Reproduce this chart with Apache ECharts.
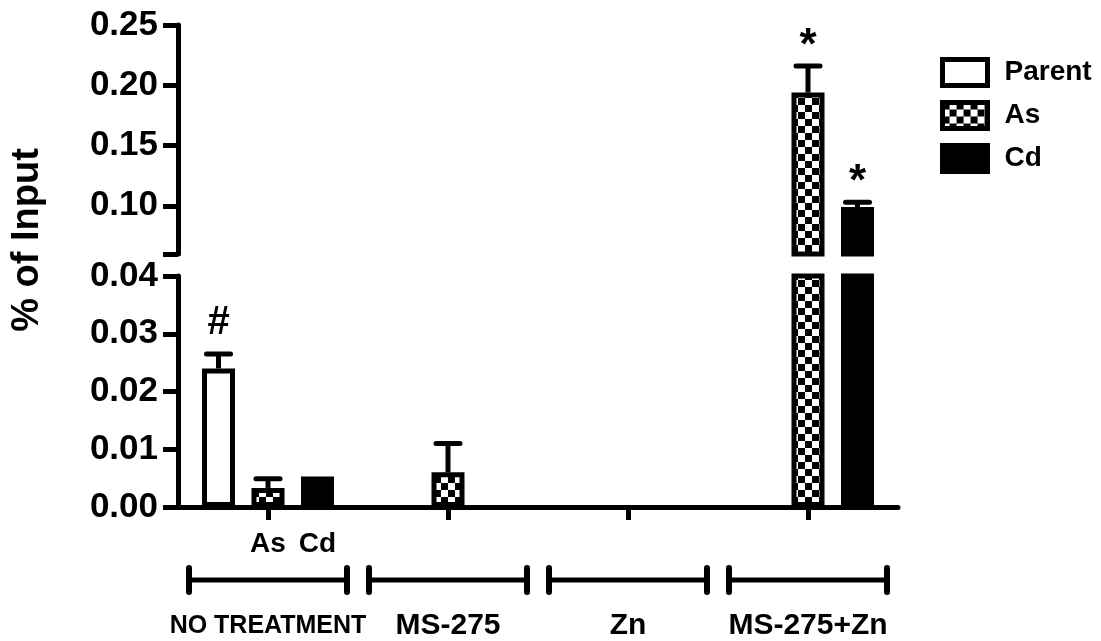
<!DOCTYPE html>
<html><head><meta charset="utf-8">
<script src="https://cdn.jsdelivr.net/npm/echarts@6/dist/echarts.min.js"></script>
<style>html,body{margin:0;padding:0;background:#fff}#c{width:1101px;height:641px}</style>
</head><body><div id="c"></div>
<script>
// ---------------- data ----------------
const categories = ['NO TREATMENT', 'MS-275', 'Zn', 'MS-275+Zn'];
const seriesNames = ['Parent', 'As', 'Cd'];
const parentValues = [0.024, null, null, null];
const asValues = [0.0033, 0.006, null, 0.194];
const cdValues = [0.0053, null, null, 0.099];
const parentErrTop = [0.0265, null, null, null];
const asErrTop = [0.0049, 0.011, null, 0.216];
const cdErrTop = [null, null, null, 0.103];
const parentMarks = ['#', '', '', ''];
const asMarks = ['', '', '', '*'];
const cdMarks = ['', '', '', '*'];
const lowerTicks = [0, 0.01, 0.02, 0.03, 0.04];
const upperTicks = [0.10, 0.15, 0.20, 0.25];
const lowerRange = [0, 0.04];
const upperRange = [0.06, 0.25];
const subLabelCategory = 'NO TREATMENT';
const yAxisTitle = '% of Input';

// ---------------- styles ----------------
const FONT = '"Liberation Sans", Arial, Helvetica, sans-serif';
const NARROW = '"Liberation Sans Narrow", "Arial Narrow", "Liberation Sans", Arial, sans-serif';
const BAR_W = 33, BAR_GAP = 0.5, STEP = BAR_W * (1 + BAR_GAP);

function makeChecker() {
  const c = document.createElement('canvas');
  c.width = 14; c.height = 14;
  const g = c.getContext('2d');
  g.fillStyle = '#fff'; g.fillRect(0, 0, 14, 14);
  g.fillStyle = '#000'; g.fillRect(0, 0, 7, 7); g.fillRect(7, 7, 7, 7);
  return c;
}
const checker = { image: makeChecker(), repeat: 'repeat' };
const barStyles = [
  { color: '#fff', borderColor: '#000', borderWidth: 5 },
  { color: checker, borderColor: '#000', borderWidth: 5 },
  { color: '#000', borderColor: '#000', borderWidth: 5 }
];
const groups = [
  { values: parentValues, err: parentErrTop, marks: parentMarks },
  { values: asValues, err: asErrTop, marks: asMarks },
  { values: cdValues, err: cdErrTop, marks: cdMarks }
];
const markOffset = { '#': 8, '*': -5 };
const markSize = { '#': 40, '*': 44 };

function errorSeries(gi, filterFn) {
  const items = [];
  groups.forEach((g, k) => g.values.forEach((v, i) => {
    if (v == null) return;
    const e = g.err[i] == null ? v : g.err[i];
    if (!filterFn(v, e)) return;
    items.push({ i, v, e, k, m: g.marks[i] });
  }));
  return {
    type: 'custom', xAxisIndex: gi, yAxisIndex: gi, z: 5, silent: true, clip: false,
    data: items.map(d => [d.i, d.e]),
    renderItem(params, api) {
      const d = items[params.dataIndex];
      const x = api.coord([d.i, 0])[0] + (d.k - 1) * STEP;
      const yv = api.coord([d.i, d.v])[1];
      const ye = api.coord([d.i, d.e])[1];
      const ch = [];
      if (d.e !== d.v) {
        ch.push({ type: 'line', shape: { x1: x, y1: yv, x2: x, y2: ye }, style: { stroke: '#000', lineWidth: 5 } });
        ch.push({ type: 'line', shape: { x1: x - 12, y1: ye, x2: x + 12, y2: ye }, style: { stroke: '#000', lineWidth: 5, lineCap: 'round' } });
      }
      if (d.m) {
        ch.push({ type: 'text', x: x, y: ye - 2.5 - markOffset[d.m],
          style: { text: d.m, fontSize: markSize[d.m], fontWeight: 'bold', fontFamily: FONT, fill: '#000', align: 'center', verticalAlign: 'bottom' } });
      }
      return { type: 'group', children: ch };
    }
  };
}

const lowerBars = seriesNames.map((name, k) => ({
  type: 'bar', name, xAxisIndex: 0, yAxisIndex: 0, barWidth: BAR_W, barGap: (BAR_GAP * 100) + '%',
  itemStyle: barStyles[k],
  label: { show: false, position: 'bottom', distance: 23, formatter: '{a}', fontSize: 28, fontWeight: 'bold', color: '#000', fontFamily: FONT },
  data: groups[k].values.map((v, i) => ({
    value: v == null ? '-' : v,
    label: { show: k > 0 && categories[i] === subLabelCategory }
  }))
}));
const upperBars = seriesNames.map((name, k) => ({
  type: 'bar', name, xAxisIndex: 1, yAxisIndex: 1, barWidth: BAR_W, barGap: (BAR_GAP * 100) + '%',
  itemStyle: barStyles[k],
  data: groups[k].values.map(v => (v != null && v > upperRange[0]) ? v : '-')
}));

const bracketSeries = {
  type: 'custom', xAxisIndex: 0, yAxisIndex: 0, silent: true, clip: false,
  data: categories.map((c, i) => [i, 0]),
  renderItem(params, api) {
    const p = api.coord([api.value(0), 0]);
    const cx = p[0], y = p[1] + 73, hw = 79;
    const st = { stroke: '#000', lineWidth: 5 };
    const cap = { stroke: '#000', lineWidth: 6, lineCap: 'round' };
    return { type: 'group', children: [
      { type: 'line', shape: { x1: cx - hw, y1: y, x2: cx + hw, y2: y }, style: st },
      { type: 'line', shape: { x1: cx - hw, y1: y - 12, x2: cx - hw, y2: y + 12 }, style: cap },
      { type: 'line', shape: { x1: cx + hw, y1: y - 12, x2: cx + hw, y2: y + 12 }, style: cap }
    ] };
  }
};

const axisLineStyle = { color: '#000', width: 5 };
const yLabel = { margin: 20, fontSize: 35, fontWeight: 'bold', color: '#000', fontFamily: FONT, formatter: v => Number(v).toFixed(2) };

const option = {
  animation: false,
  backgroundColor: '#fff',
  grid: [
    { left: 178, right: 203, top: 276, bottom: 131 },
    { left: 178, right: 203, top: 25, bottom: 387 }
  ],
  xAxis: [
    { type: 'category', gridIndex: 0, data: categories,
      axisLine: { show: true, lineStyle: axisLineStyle },
      axisTick: { show: true, alignWithLabel: true, length: 13, lineStyle: { color: '#000', width: 5 } },
      axisLabel: { margin: 104, interval: 0,
        formatter: v => v === 'NO TREATMENT' ? '{n|' + v + '}' : '{m|' + v + '}',
        rich: {
          n: { fontSize: 25, fontWeight: 'bold', fontFamily: NARROW, color: '#000', lineHeight: 30 },
          m: { fontSize: 30, fontWeight: 'bold', fontFamily: FONT, color: '#000', lineHeight: 30 }
        } },
      splitLine: { show: false } },
    { type: 'category', gridIndex: 1, data: categories, show: false }
  ],
  yAxis: [
    { type: 'value', gridIndex: 0, min: lowerRange[0], max: lowerRange[1],
      axisLine: { show: true, lineStyle: axisLineStyle },
      axisTick: { show: true, length: 15, lineStyle: { color: '#000', width: 5 }, customValues: lowerTicks },
      axisLabel: Object.assign({ customValues: lowerTicks }, yLabel),
      splitLine: { show: false } },
    { type: 'value', gridIndex: 1, min: upperRange[0], max: upperRange[1],
      axisLine: { show: true, lineStyle: axisLineStyle },
      axisTick: { show: true, length: 15, lineStyle: { color: '#000', width: 5 }, customValues: [upperRange[0]].concat(upperTicks) },
      axisLabel: Object.assign({ customValues: upperTicks }, yLabel),
      splitLine: { show: false } }
  ],
  legend: {
    orient: 'vertical', left: 940, top: 57, padding: 0, itemWidth: 45, itemHeight: 26, itemGap: 12,
    selectedMode: false, icon: 'rect',
    textStyle: { fontSize: 28, fontWeight: 'bold', color: '#000', fontFamily: FONT, lineHeight: 31, padding: [0, 0, 0, 12] },
    data: seriesNames.map((n, k) => ({ name: n, itemStyle: Object.assign({}, barStyles[k], { borderWidth: 5 }) }))
  },
  graphic: [
    { type: 'text', x: 28, y: 240, rotation: Math.PI / 2,
      style: { text: yAxisTitle, fontSize: 38, fontWeight: 'bold', fontFamily: FONT, fill: '#000', align: 'center', verticalAlign: 'middle' } }
  ],
  series: [].concat(lowerBars, upperBars, [
    errorSeries(0, (v, e) => e <= lowerRange[1]),
    errorSeries(1, (v, e) => v >= upperRange[0]),
    bracketSeries
  ])
};
const chart = echarts.init(document.getElementById('c'), null, { renderer: 'canvas' });
chart.setOption(option);
</script>
</body></html>
